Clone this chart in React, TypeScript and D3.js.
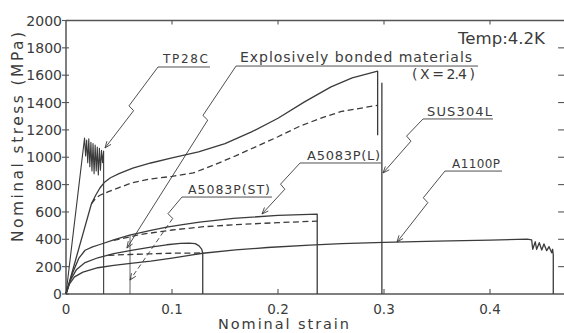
import React from "react";
import * as d3 from "d3";

type Pt = [number, number];

// ---- axis ticks ----
const yTicks = [0, 200, 400, 600, 800, 1000, 1200, 1400, 1600, 1800, 2000];
const xTicks = [0, 0.1, 0.2, 0.3, 0.4];
const xTickLabels = ["0", "0.1", "0.2", "0.3", "0.4"];

// ---- curves (strain, stress MPa) ----
const tp28c: Pt[] = [
  [0, 0], [0.0175, 1140], [0.0185, 1010], [0.0195, 1125], [0.0205, 960], [0.0215, 1135],
  [0.0225, 930], [0.0235, 1110], [0.0245, 900], [0.0255, 1100], [0.0265, 880], [0.0275, 1090],
  [0.0285, 900], [0.0295, 1075], [0.0305, 870], [0.0315, 1065], [0.0325, 905], [0.0335, 1050],
  [0.0345, 960], [0.0355, 1045], [0.0355, 0],
];
const bondedSolid: Pt[] = [
  [0, 0], [0.012, 330], [0.024, 660], [0.028, 722], [0.032, 775], [0.036, 815], [0.042, 850],
  [0.05, 880], [0.063, 920], [0.08, 958], [0.1, 995], [0.125, 1040], [0.15, 1100], [0.175, 1185],
  [0.2, 1285], [0.225, 1405], [0.25, 1515], [0.27, 1580], [0.294, 1630], [0.294, 1160],
];
const bondedDashed: Pt[] = [
  [0.024, 660], [0.028, 700], [0.032, 722], [0.04, 748], [0.05, 778], [0.063, 815], [0.08, 842],
  [0.1, 860], [0.12, 885], [0.14, 945], [0.16, 1010], [0.18, 1080], [0.2, 1150], [0.22, 1225],
  [0.24, 1285], [0.26, 1335], [0.294, 1380],
];
const sus304l: Pt[] = [[0.298, 1545], [0.298, 0]];
const a5083L: Pt[] = [
  [0, 0], [0.006, 150], [0.012, 260], [0.018, 320], [0.025, 345], [0.032, 362], [0.045, 395],
  [0.06, 430], [0.08, 465], [0.095, 489], [0.11, 508], [0.126, 525], [0.158, 553], [0.2, 575],
  [0.237, 584], [0.237, 0],
];
const a5083LDashed: Pt[] = [
  [0.045, 392], [0.07, 435], [0.1, 468], [0.13, 492], [0.16, 507], [0.2, 522], [0.237, 533],
];
const a5083ST: Pt[] = [
  [0, 0], [0.004, 100], [0.01, 180], [0.018, 230], [0.03, 265], [0.045, 295], [0.063, 321],
  [0.08, 343], [0.095, 360], [0.108, 370], [0.116, 372], [0.122, 368], [0.1255, 352],
  [0.128, 328], [0.129, 300], [0.129, 0],
];
const a5083STDashed: Pt[] = [
  [0.04, 283], [0.06, 289], [0.08, 294], [0.1, 298], [0.129, 300],
];
const a1100p: Pt[] = [
  [0, 0], [0.003, 70], [0.008, 125], [0.016, 160], [0.03, 192], [0.045, 210], [0.063, 226],
  [0.08, 240], [0.1, 262], [0.129, 298], [0.16, 322], [0.19, 340], [0.23, 357], [0.26, 368],
  [0.3, 378], [0.35, 386], [0.4, 394], [0.435, 401], [0.4393, 395], [0.4403, 327],
  [0.4427, 382], [0.444, 327], [0.4465, 375], [0.4488, 322], [0.4509, 366], [0.4535, 317],
  [0.4557, 346], [0.4582, 302], [0.4591, 327], [0.4597, 285], [0.4597, 0],
];
const guide: Pt[] = [[0.0604, 430], [0.0604, 0]];

// ---- annotations (anchors in data units) ----
const labelTexts = ["TP28C", "Explosively bonded materials", "A5083P(ST)", "A5083P(L)", "SUS304L", "A1100P"];
const labelAnchors: Pt[] = [[0.0915, 1689], [0.1642, 1697], [0.1151, 731], [0.2274, 980], [0.3406, 1302], [0.3642, 921]];
const underlineStarts: Pt[] = [[0.0868, 1660], [0.1604, 1667], [0.1094, 709], [0.2208, 958], [0.3368, 1280], [0.3575, 899]];
const underlineEnds = [0.1358, 0.3887, 0.1943, 0.2972, 0.4028, 0.4113];
const arrowTips: Pt[] = [[0.0368, 1068], [0.0575, 336], [0.0604, 102], [0.1849, 585], [0.2991, 885], [0.3123, 380]];
const zigAt = [0.5, 0.28, 0.22, 0.45, 0.35, 0.4];
const subNote = "( X = 2.4 )";
const subNoteAnchor: Pt = [0.3264, 1572];
const tempNote = "Temp:4.2K";
const tempAnchor: Pt = [0.3698, 1828];

const W = 564, H = 333;
const INK = "#3b3b3b";
const FONT = "DejaVu Sans, Verdana, sans-serif";

export default function App() {
  const x = d3.scaleLinear().domain([0, 0.47]).range([66, 66 + 0.47 * 1060]);
  const y = d3.scaleLinear().domain([0, 2000]).range([294, 20.5]);
  const line = d3.line<Pt>().x((d) => x(d[0])).y((d) => y(d[1]));

  const xRight = x(0.4718);
  const labelWidths = [45, 232, 82, 73, 65, 48];
  const labelSizes = [12, 14, 12.5, 13, 13, 12];

  const leaders = arrowTips.map((tip, i) => {
    const s: Pt = [x(underlineStarts[i][0]), y(underlineStarts[i][1])];
    const e: Pt = [x(tip[0]), y(tip[1])];
    const dx = e[0] - s[0], dy = e[1] - s[1];
    const L = Math.hypot(dx, dy);
    const u: Pt = [dx / L, dy / L];
    const n: Pt = [u[1], -u[0]];
    const t = zigAt[i];
    const P: Pt = [s[0] + dx * t, s[1] + dy * t];
    const A: Pt = [P[0] - n[0] * 3, P[1] - n[1] * 3];
    const B: Pt = [P[0] + n[0] * 3.5 + u[0] * 1.5, P[1] + n[1] * 3.5 + u[1] * 1.5];
    const bx = e[0] - B[0], by = e[1] - B[1];
    const ang = Math.atan2(by, bx);
    const head = [0.38, -0.38].map((a) => [e[0] - 7 * Math.cos(ang + a), e[1] - 7 * Math.sin(ang + a)] as Pt);
    return { s, A, B, e, head };
  });

  return (
    <>
      <style>{`body{margin:0;background:#fff}`}</style>
      <svg width={W} height={H} style={{ position: "absolute", left: 0, top: 0, background: "#fff" }} fontFamily={FONT}>
        {/* frame */}
        <g stroke="#555" strokeWidth={1.5} fill="none">
          <line x1={x(0)} y1={y(0)} x2={W + 2} y2={y(0)} />
          <line x1={x(0)} y1={y(0)} x2={x(0)} y2={y(2000)} />
          <line x1={x(0)} y1={y(2000)} x2={xRight} y2={y(2000)} />
          <line x1={xRight} y1={y(2000)} x2={xRight} y2={y(0)} />
        </g>
        {/* ticks */}
        <g stroke="#555" strokeWidth={1.1}>
          {yTicks.map((v) => (
            <line key={"yl" + v} x1={x(0) - 4} x2={x(0) + 3} y1={y(v)} y2={y(v)} />
          ))}
          {yTicks.filter((v) => v > 0 && v < 2000).map((v) => (
            <line key={"yr" + v} x1={xRight - 8} x2={xRight} y1={y(v)} y2={y(v)} />
          ))}
          {xTicks.filter((v) => v > 0).map((v) => (
            <g key={"xt" + v}>
              <line x1={x(v)} x2={x(v)} y1={y(0)} y2={y(0) - 5} />
              <line x1={x(v)} x2={x(v)} y1={y(2000)} y2={y(2000) + 4} />
            </g>
          ))}
        </g>
        {/* tick labels */}
        <g fill={INK} fontSize={14}>
          {yTicks.map((v) => (
            <text key={"ylab" + v} x={x(0) - 4} y={y(v)} textAnchor="end" dominantBaseline="central">
              {v}
            </text>
          ))}
          {xTicks.map((v, i) => (
            <text key={"xlab" + v} x={x(v)} y={314} textAnchor="middle" fontSize={13.5}>
              {xTickLabels[i]}
            </text>
          ))}
        </g>
        {/* axis titles */}
        <text
          transform={`translate(23,242) rotate(-90)`}
          fill={INK}
          fontSize={15.5}
          textLength={210}
          lengthAdjust="spacing"
        >
          Nominal stress (MPa)
        </text>
        <text x={218} y={329} fill={INK} fontSize={14.5} textLength={131} lengthAdjust="spacing">
          Nominal strain
        </text>

        {/* curves */}
        <g fill="none" stroke={INK} strokeWidth={1.3} strokeLinejoin="round">
          <path d={line(tp28c) || ""} strokeWidth={1.1} />
          <path d={line(bondedSolid) || ""} />
          <path d={line(bondedDashed) || ""} strokeDasharray="6 3.5" />
          <path d={line(sus304l) || ""} />
          <path d={line(a5083L) || ""} />
          <path d={line(a5083LDashed) || ""} strokeDasharray="6 3.5" />
          <path d={line(a5083ST) || ""} />
          <path d={line(a5083STDashed) || ""} strokeDasharray="6 3.5" />
          <path d={line(a1100p) || ""} />
          <path d={line(guide) || ""} strokeWidth={0.8} />
        </g>

        {/* leaders */}
        <g fill="none" stroke={INK} strokeWidth={0.9}>
          {leaders.map((l, i) => (
            <g key={"ld" + i}>
              <polyline points={[l.s, l.A, l.B].map((p) => p.join(",")).join(" ")} />
              <line x1={l.B[0]} y1={l.B[1]} x2={l.e[0]} y2={l.e[1]} strokeDasharray={i === 2 ? "5 3" : undefined} />
              <polyline points={[l.head[0], l.e, l.head[1]].map((p) => p.join(",")).join(" ")} />
              <line x1={l.s[0]} y1={l.s[1]} x2={x(underlineEnds[i])} y2={l.s[1]} />
            </g>
          ))}
        </g>

        {/* labels */}
        <g fill={INK}>
          {labelTexts.map((t, i) => (
            <text
              key={"lt" + i}
              x={x(labelAnchors[i][0])}
              y={y(labelAnchors[i][1])}
              fontSize={labelSizes[i]}
              textLength={labelWidths[i]}
              lengthAdjust="spacing"
            >
              {t}
            </text>
          ))}
          <text x={x(subNoteAnchor[0])} y={y(subNoteAnchor[1])} fontSize={14} textLength={63} lengthAdjust="spacing">
            {subNote}
          </text>
          <text x={x(tempAnchor[0])} y={y(tempAnchor[1])} fontSize={16} textLength={87} lengthAdjust="spacingAndGlyphs">
            {tempNote}
          </text>
        </g>
      </svg>
    </>
  );
}
